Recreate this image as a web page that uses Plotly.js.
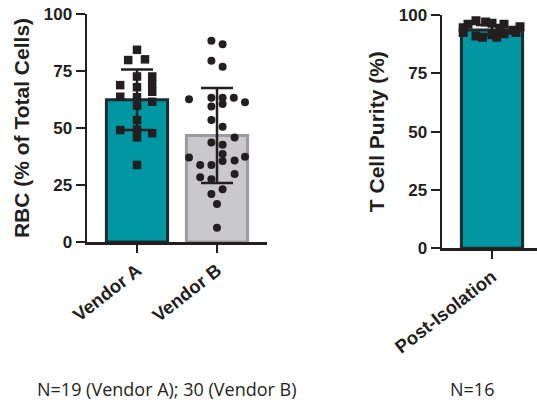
<!DOCTYPE html>
<html>
<head>
<meta charset="utf-8">
<script src="https://cdn.plot.ly/plotly-3.0.1.min.js"></script>
<style>html,body{margin:0;padding:0;background:#fff;}#chart{width:537px;height:402px;}</style>
</head>
<body>
<div id="chart"></div>
<script>
// ---- Data ----
const rbcCategories = ['Vendor A', 'Vendor B'];
const rbcMeans = [62.4, 46.7];
const rbcSD = [13.3, 20.8];
const vendorAValues = [84.3, 79.8, 80.1, 72.6, 67.9, 63.5, 59.8, 53.5, 49.3, 45.9, 33.8, 68.8, 63.7, 49.1, 72.6, 69.4, 65.9, 61.5, 47.7];
const vendorAOffsets = [0, -0.11, 0.10, 0, 0, 0, 0, 0, 0, 0, 0, -0.21, -0.21, -0.21, 0.19, 0.19, 0.19, 0.19, 0.19];
const vendorBValues = [88.3, 86.7, 79.5, 76.9, 62.6, 63.3, 63.3, 63.3, 61.3, 59.4, 60.5, 53.5, 50.6, 45.8, 43.6, 42.7, 38.6, 37.1, 37.4, 35.5, 35.7, 33.8, 33.8, 29.8, 28.4, 27.5, 23.1, 21.1, 16.7, 6.3];
const vendorBOffsets = [-0.07, 0.07, -0.07, 0.07, -0.35, -0.07, 0.07, 0.21, 0.35, -0.07, 0.07, -0.07, 0.07, 0.22, -0.07, 0.07, 0.07, -0.35, 0.35, 0.07, 0.22, -0.21, -0.07, 0.22, -0.21, -0.07, 0.07, -0.07, 0, 0];

const purityCategories = ['Post-Isolation'];
const purityMeans = [93.6];
const puritySD = [2.1];
const purityValues = [97.5, 96.0, 96.5, 96.0, 95.0, 94.5, 97.0, 94.0, 93.5, 92.5, 91.0, 91.5, 92.0, 92.5, 90.5, 90.5];
const purityOffsets = [-0.2, -0.3, 0, 0.15, 0.35, -0.36, -0.08, 0.1, 0.26, -0.36, -0.2, 0.0, 0.15, 0.3, -0.12, 0.06];

const footnoteLeft = 'N=19 (Vendor A); 30 (Vendor B)';
const footnoteRight = 'N=16';

// ---- Styles ----
const ink = '#231f20';
const teal = '#0096a2';
const tealLine = '#1e2b2d';
const grayFill = '#c9c9cc';
const grayLine = '#9b9b9f';
const tickFont = {family: 'Liberation Sans, Arial, sans-serif', size: 17, weight: 'bold', color: ink};
const titleFont = {family: 'Liberation Sans, Arial, sans-serif', size: 21, weight: 'bold', color: ink};
const catFont = {family: 'Liberation Sans, Arial, sans-serif', size: 18.5, weight: 'bold', color: ink};

const W = 537, H = 402;
const px = v => v / W;
const py = v => 1 - v / H;

const idxA = rbcCategories.map((c, i) => i);
const traces = [
  {
    type: 'bar', x: idxA, y: rbcMeans, xaxis: 'x', yaxis: 'y', width: 0.765,
    marker: {color: [teal, grayFill], line: {color: [tealLine, grayLine], width: 3}},
    error_y: {type: 'data', array: rbcSD, visible: true, color: ink, thickness: 2.5, width: 16},
    hoverinfo: 'skip', showlegend: false
  },
  {
    type: 'scatter', mode: 'markers', xaxis: 'x', yaxis: 'y',
    x: vendorAValues.map((v, i) => 0 + vendorAOffsets[i]), y: vendorAValues,
    marker: {symbol: 'square', size: 8.5, color: ink}, showlegend: false
  },
  {
    type: 'scatter', mode: 'markers', xaxis: 'x', yaxis: 'y',
    x: vendorBValues.map((v, i) => 1 + vendorBOffsets[i]), y: vendorBValues,
    marker: {symbol: 'circle', size: 8, color: ink}, showlegend: false
  },
  {
    type: 'bar', x: purityCategories.map((c, i) => i), y: purityMeans, xaxis: 'x2', yaxis: 'y2', width: 0.765,
    marker: {color: teal, line: {color: tealLine, width: 3}},
    error_y: {type: 'data', array: puritySD, visible: true, color: ink, thickness: 2.5, width: 16},
    hoverinfo: 'skip', showlegend: false
  },
  {
    type: 'scatter', mode: 'markers', xaxis: 'x2', yaxis: 'y2',
    x: purityValues.map((v, i) => 0 + purityOffsets[i]), y: purityValues,
    marker: {symbol: 'square', size: 9, color: ink}, showlegend: false
  }
];

const axisCommon = {
  showline: true, linecolor: ink, linewidth: 2.5, mirror: false,
  showgrid: false, zeroline: false, ticks: 'outside', tickcolor: ink, tickwidth: 2.2
};

const layout = {
  width: W, height: H,
  margin: {l: 0, r: 0, t: 0, b: 0},
  paper_bgcolor: '#fff', plot_bgcolor: 'rgba(0,0,0,0)',
  showlegend: false,
  xaxis: Object.assign({}, axisCommon, {
    domain: [px(87), px(267)], range: [-0.625, 1.625], anchor: 'y',
    tickvals: idxA, ticktext: rbcCategories, tickangle: -38, ticklen: 8, tickfont: catFont
  }),
  yaxis: Object.assign({}, axisCommon, {
    domain: [py(242), py(14)], range: [0, 100], anchor: 'x',
    tickvals: [0, 25, 50, 75, 100], ticklen: 9, tickfont: tickFont,
    title: {text: 'RBC (% of Total Cells)', font: titleFont, standoff: 9}
  }),
  xaxis2: Object.assign({}, axisCommon, {
    domain: [px(442), 1], range: [-0.625, 0.5625], anchor: 'y2',
    tickvals: [0], ticktext: purityCategories, tickangle: -38, ticklen: 8, tickfont: catFont
  }),
  yaxis2: Object.assign({}, axisCommon, {
    domain: [py(248.3), py(15)], range: [0, 100], anchor: 'x2',
    tickvals: [0, 25, 50, 75, 100], ticklen: 9, tickfont: tickFont,
    title: {text: 'T Cell Purity (%)', font: titleFont, standoff: 9}
  }),
  annotations: [
    {text: footnoteLeft, xref: 'paper', yref: 'paper', x: px(167), y: py(389), xanchor: 'center', yanchor: 'middle',
     showarrow: false, font: {family: 'Open Sans, sans-serif', size: 18, color: ink}},
    {text: footnoteRight, xref: 'paper', yref: 'paper', x: px(472), y: py(389), xanchor: 'center', yanchor: 'middle',
     showarrow: false, font: {family: 'Open Sans, sans-serif', size: 18, color: ink}}
  ]
};

Plotly.newPlot('chart', traces, layout, {staticPlot: true, displayModeBar: false});
</script>
</body>
</html>
